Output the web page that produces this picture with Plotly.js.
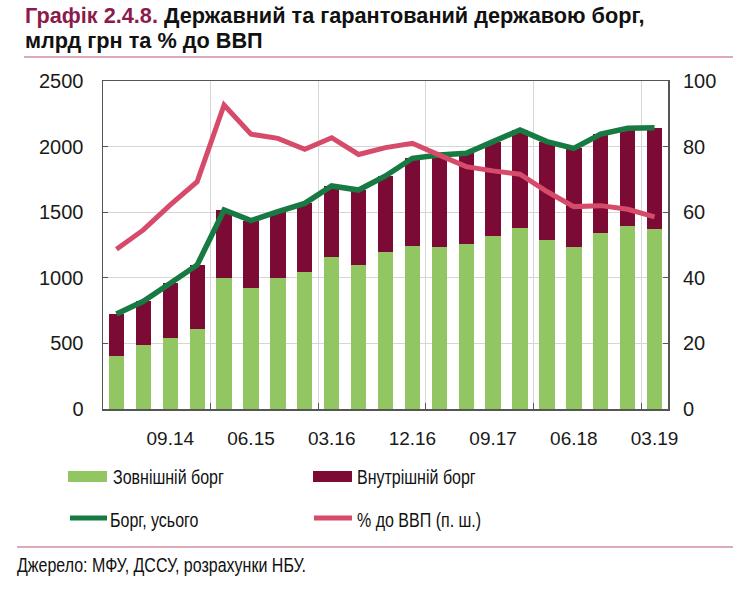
<!DOCTYPE html>
<html>
<head>
<meta charset="utf-8">
<script src="https://cdn.plot.ly/plotly-3.0.1.min.js"></script>
<style>
html,body{margin:0;padding:0;background:#fff;}
#chart{width:740px;height:592px;}
</style>
</head>
<body>
<div id="chart"></div>
<script>
// ---- data ----
const quarters = ["03.14","06.14","09.14","12.14","03.15","06.15","09.15","12.15","03.16","06.16","09.16","12.16","03.17","06.17","09.17","12.17","03.18","06.18","09.18","12.18","03.19"];
const externalDebt = [406,488,539,612,996,920,996,1042,1156,1095,1199,1242,1232,1258,1321,1377,1288,1232,1344,1397,1372];
const domesticDebt = [318,333,419,486,521,516,508,525,544,574,577,669,704,691,717,750,750,755,752,742,772];
const totalDebt    = [724,821,958,1098,1517,1436,1504,1567,1700,1669,1776,1911,1936,1949,2038,2127,2038,1987,2096,2139,2144];
const pctGDP       = [48.7,54.6,62.2,69.3,92.7,83.8,82.5,79.2,82.7,77.6,79.7,81.0,77.4,73.9,72.6,71.6,66.3,61.7,62.0,60.9,58.6];
const xTickLabels  = ["09.14","06.15","03.16","12.16","09.17","06.18","03.19"];
const seriesNames  = ["Зовнішній борг","Внутрішній борг","Борг, усього","% до ВВП (п. ш.)"];
const titleNum = "Графік 2.4.8.";
const titleText1 = "Державний та гарантований державою борг,";
const titleText2 = "млрд грн та % до ВВП";
const sourceText = "Джерело: МФУ, ДССУ, розрахунки НБУ.";

// ---- styling ----
const C_EXT = "#92c663", C_DOM = "#7b0a34", C_TOT = "#167a42", C_PCT = "#d74b6a";
const SEP = "#cf8fa3";
const W = 740, H = 592;
const L = 103, R = 668, T = 81, B = 409;
const px = x => (x - L) / (R - L);
const py = y => (B - y) / (B - T);

const idx = quarters.map((q, i) => i);
const tickIdx = xTickLabels.map(t => quarters.indexOf(t));
// year boundaries (between Dec and Mar)
const yearBounds = quarters.map((q, i) => i).filter(i => i > 0 && quarters[i].startsWith("03")).map(i => i - 0.5);

const SANS = "Liberation Sans, Arial, sans-serif";

const traces = [
  {type:"bar", x:idx, y:externalDebt, name:seriesNames[0], marker:{color:C_EXT}, width:0.57, hoverinfo:"y"},
  {type:"bar", x:idx, y:domesticDebt, name:seriesNames[1], marker:{color:C_DOM}, width:0.57, hoverinfo:"y"},
  {type:"scatter", mode:"lines", x:idx, y:totalDebt, name:seriesNames[2], line:{color:C_TOT, width:5.5}},
  {type:"scatter", mode:"lines", x:idx, y:pctGDP, name:seriesNames[3], yaxis:"y2", line:{color:C_PCT, width:5}}
];

const shapes = [
  {type:"line", xref:"paper", yref:"paper", x0:px(24), x1:px(733), y0:py(57), y1:py(57), line:{color:SEP, width:1.5}},
  {type:"line", xref:"paper", yref:"paper", x0:px(17), x1:px(733), y0:py(547), y1:py(547), line:{color:SEP, width:1.5}},
  // legend swatches
  {type:"rect", xref:"paper", yref:"paper", x0:px(68), x1:px(107), y0:py(471), y1:py(482), fillcolor:C_EXT, line:{width:0}},
  {type:"rect", xref:"paper", yref:"paper", x0:px(313), x1:px(352), y0:py(471), y1:py(482), fillcolor:C_DOM, line:{width:0}},
  {type:"line", xref:"paper", yref:"paper", x0:px(70), x1:px(107), y0:py(518), y1:py(518), line:{color:C_TOT, width:5}},
  {type:"line", xref:"paper", yref:"paper", x0:px(314), x1:px(352), y0:py(518), y1:py(518), line:{color:C_PCT, width:5}}
];

const annotations = [
  {xref:"paper", yref:"paper", x:px(23), y:py(16), xanchor:"left", yanchor:"middle", showarrow:false,
   text:"<b><span style='color:#8c1b4c'>"+titleNum+"</span> "+titleText1+"</b>", font:{family:SANS, size:21.7, color:"#111"}},
  {xref:"paper", yref:"paper", x:px(23), y:py(41), xanchor:"left", yanchor:"middle", showarrow:false,
   text:"<b>"+titleText2+"</b>", font:{family:SANS, size:21.7, color:"#111"}},
  {xref:"paper", yref:"paper", x:px(111), y:py(477), xanchor:"left", yanchor:"middle", showarrow:false,
   text:seriesNames[0], font:{family:SANS, size:20, color:"#111"}},
  {xref:"paper", yref:"paper", x:px(355), y:py(477), xanchor:"left", yanchor:"middle", showarrow:false,
   text:seriesNames[1], font:{family:SANS, size:20, color:"#111"}},
  {xref:"paper", yref:"paper", x:px(108), y:py(520), xanchor:"left", yanchor:"middle", showarrow:false,
   text:seriesNames[2], font:{family:SANS, size:20, color:"#111"}},
  {xref:"paper", yref:"paper", x:px(355), y:py(520), xanchor:"left", yanchor:"middle", showarrow:false,
   text:seriesNames[3], font:{family:SANS, size:20, color:"#111"}},
  {xref:"paper", yref:"paper", x:px(15), y:py(565), xanchor:"left", yanchor:"middle", showarrow:false,
   text:sourceText, font:{family:SANS, size:20, color:"#111"}}
];

const layout = {
  width:W, height:H,
  margin:{l:L, r:W-R, t:T, b:H-B, pad:0},
  paper_bgcolor:"#fff", plot_bgcolor:"#fff",
  barmode:"stack",
  showlegend:false,
  font:{family:SANS, size:19, color:"#1a1a1a"},
  xaxis:{
    range:[-0.5, 20.5], tickmode:"array", tickvals:tickIdx, ticktext:xTickLabels,
    showgrid:false, ticks:"", zeroline:false,
    showline:true, linecolor:"#555", linewidth:1.5, mirror:true,
    ticklabelstandoff:12,
    minor:{tickmode:"array", tickvals:yearBounds, showgrid:true, gridcolor:"#d6d6d6", gridwidth:1, ticks:"inside", ticklen:6, tickcolor:"#555"},
    tickfont:{family:SANS, size:19, color:"#1a1a1a"}
  },
  yaxis:{
    range:[0, 2500], dtick:500, tick0:0,
    showgrid:true, gridcolor:"#d6d6d6", gridwidth:1, zeroline:false,
    showline:true, linecolor:"#555", linewidth:1.5, mirror:true,
    ticks:"inside", ticklen:5, tickcolor:"#555",
    ticklabelstandoff:14,
    tickfont:{family:SANS, size:20, color:"#1a1a1a"}
  },
  yaxis2:{
    overlaying:"y", side:"right", range:[0, 100], dtick:20, tick0:0,
    showgrid:false, zeroline:false, showline:false,
    ticks:"inside", ticklen:5, tickcolor:"#555",
    ticklabelstandoff:14,
    tickfont:{family:SANS, size:20, color:"#1a1a1a"}
  },
  shapes:shapes,
  annotations:annotations
};

Plotly.newPlot("chart", traces, layout, {staticPlot:true, displayModeBar:false}).then(function(gd){
  // condense legend and source texts (reference uses a narrow typeface)
  const S = 0.8;
  gd.querySelectorAll("g.annotation").forEach(function(g){
    const i = +g.getAttribute("data-index");
    if (i < 2) return;
    const t = g.querySelector("text.annotation-text");
    if (!t) return;
    const bb = t.getBBox();
    t.setAttribute("transform", "matrix(" + S + ",0,0,1," + (bb.x * (1 - S)) + ",0)");
  });
});
</script>
</body>
</html>
